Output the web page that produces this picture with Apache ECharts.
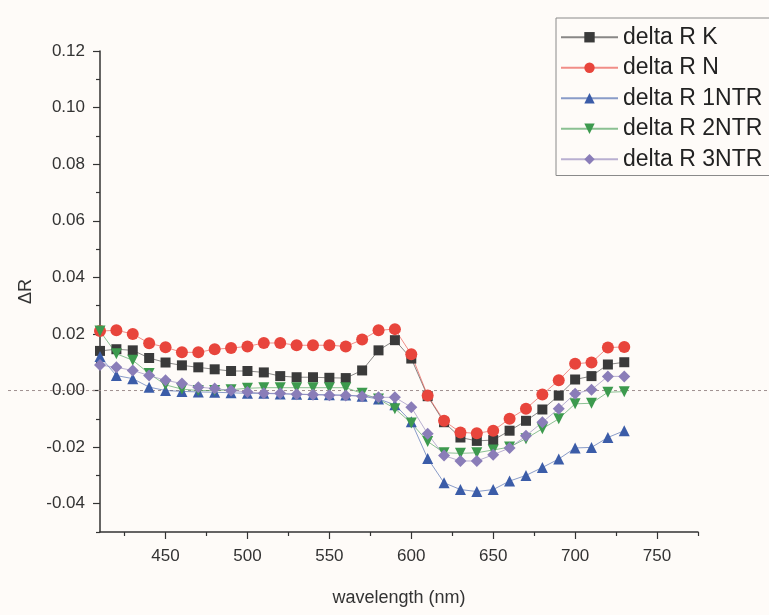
<!DOCTYPE html>
<html><head><meta charset="utf-8">
<script src="https://cdn.jsdelivr.net/npm/echarts@6/dist/echarts.min.js"></script>
<style>html,body{margin:0;padding:0;background:#fefbf8;}#c{width:769px;height:615px;}</style>
</head><body><div id="c"></div>
<script>
const wavelengths = [410,420,430,440,450,460,470,480,490,500,510,520,530,540,550,560,570,580,590,600,610,620,630,640,650,660,670,680,690,700,710,720,730];
const seriesNames = ['delta R K','delta R N','delta R 1NTR','delta R 2NTR','delta R 3NTR'];
const deltaK = [0.014,0.0146,0.0142,0.0115,0.0099,0.0089,0.0082,0.0075,0.0069,0.0069,0.0064,0.0051,0.0047,0.0047,0.0045,0.0044,0.0071,0.0142,0.0178,0.0113,-0.002,-0.0112,-0.0166,-0.0178,-0.0175,-0.0142,-0.0107,-0.0067,-0.0018,0.0039,0.0051,0.0092,0.0100];
const deltaN = [0.021,0.0213,0.020,0.0167,0.0153,0.0135,0.0135,0.0146,0.015,0.0156,0.0168,0.0168,0.016,0.016,0.016,0.0156,0.018,0.0213,0.0217,0.0128,-0.0018,-0.0107,-0.0148,-0.0151,-0.0142,-0.010,-0.0064,-0.0014,0.0036,0.0095,0.0099,0.0152,0.0154];
const delta1NTR = [0.012,0.0053,0.0042,0.0012,0.0,-0.0003,-0.0005,-0.0006,-0.0008,-0.001,-0.001,-0.0012,-0.0013,-0.0014,-0.0015,-0.0016,-0.002,-0.003,-0.005,-0.011,-0.024,-0.0326,-0.035,-0.0357,-0.035,-0.032,-0.030,-0.0272,-0.0242,-0.0203,-0.0201,-0.0166,-0.0142];
const delta2NTR = [0.021,0.013,0.0107,0.006,0.002,0.0005,0.0,0.0,0.0003,0.0008,0.001,0.001,0.001,0.001,0.001,0.001,-0.001,-0.003,-0.0064,-0.0115,-0.018,-0.022,-0.0222,-0.022,-0.021,-0.020,-0.017,-0.0135,-0.010,-0.0047,-0.0045,-0.0006,-0.0004];
const delta3NTR = [0.009,0.0082,0.0071,0.0053,0.0036,0.0025,0.0012,0.0007,0.0,-0.0005,-0.001,-0.001,-0.0013,-0.0015,-0.0017,-0.0018,-0.002,-0.0024,-0.0024,-0.0059,-0.0153,-0.023,-0.0249,-0.0249,-0.0227,-0.0203,-0.016,-0.0112,-0.0064,-0.0011,0.0003,0.005,0.005];
const xTickLabels = [450,500,550,600,650,700,750];
const xMinorTicks = [425,475,525,575,625,675,725,775];
const yTickLabels = [-0.04,-0.02,0.00,0.02,0.04,0.06,0.08,0.10,0.12];
const yMinorTicks = [-0.05,-0.03,-0.01,0.01,0.03,0.05,0.07,0.09,0.11];

const allValues = [deltaK, deltaN, delta1NTR, delta2NTR, delta3NTR];
const colors = ['#3a3a3a','#e8453c','#3b5ca8','#3d9a4e','#8a7db8'];
const symbols = ['rect','circle','triangle','triangle','diamond'];
const rotates = [0,0,0,180,0];
const sizes = [10,12,11,11,12];

const chart = echarts.init(document.getElementById('c'));
const axisColor = '#333';
const FONT = 'Liberation Sans, Arial, sans-serif';
const series = allValues.map((vals,i)=>({
  name: seriesNames[i], type:'line', xAxisIndex:0, yAxisIndex:0,
  data: vals.map((v,j)=>[wavelengths[j], v]),
  symbol: symbols[i], symbolRotate: rotates[i], symbolSize: sizes[i],
  itemStyle:{color:colors[i]},
  lineStyle:{color:colors[i], width:1, opacity:0.6},
  emphasis:{disabled:true}, animation:false, z: 3
}));

chart.setOption({
  backgroundColor:'#fefbf8',
  animation:false,
  grid:{left:100,right:71,top:51,bottom:83,containLabel:false},
  legend:{
    orient:'vertical', left:556, top:18,
    padding:[7,60,4,4],
    borderColor:'#8a8a8a', borderWidth:1,
    itemWidth:57, itemHeight:13, itemGap:6,
    textStyle:{fontFamily:FONT, fontSize:23, color:'#222', lineHeight:24.5},
    data: seriesNames
  },
  xAxis:[{
    type:'value', min:410, max:775, position:'bottom',
    name:'wavelength (nm)', nameLocation:'middle', nameGap:57,
    nameTextStyle:{fontFamily:FONT, fontSize:18, color:'#333'},
    axisLine:{show:true, onZero:false, lineStyle:{color:axisColor,width:1.5}},
    axisTick:{show:true, length:7, customValues:xTickLabels, lineStyle:{color:axisColor,width:1.2}},
    axisLabel:{customValues:xTickLabels, margin:16, fontFamily:FONT, fontSize:17, color:'#333'},
    splitLine:{show:false}
  },{
    type:'value', min:410, max:775, position:'bottom', gridIndex:0,
    axisLine:{show:false, onZero:false},
    axisTick:{show:true, length:4, customValues:xMinorTicks, lineStyle:{color:axisColor,width:1.2}},
    axisLabel:{show:false}, splitLine:{show:false}
  }],
  yAxis:[{
    type:'value', min:-0.05, max:0.12, position:'left',
    name:'ΔR', nameLocation:'middle', nameGap:52, nameRotate:90,
    nameTextStyle:{fontFamily:FONT, fontSize:18, color:'#333'},
    axisLine:{show:true, onZero:false, lineStyle:{color:axisColor,width:1.5}},
    axisTick:{show:true, length:7, customValues:yTickLabels, lineStyle:{color:axisColor,width:1.2}},
    axisLabel:{customValues:yTickLabels, margin:15, fontFamily:FONT, fontSize:17, color:'#333',
      formatter:(v)=>Number(v).toFixed(2)},
    splitLine:{show:false}
  },{
    type:'value', min:-0.05, max:0.12, position:'left',
    axisLine:{show:false, onZero:false},
    axisTick:{show:true, length:4, customValues:yMinorTicks, lineStyle:{color:axisColor,width:1.2}},
    axisLabel:{show:false}, splitLine:{show:false}
  }],
  series: series
});

const y0 = chart.convertToPixel({yAxisIndex:0}, 0);
chart.setOption({
  graphic:[{
    type:'line', z:1, silent:true,
    shape:{x1:8, y1:y0, x2:769, y2:y0},
    style:{stroke:'#a09090', lineWidth:1, lineDash:[3,3]}
  }]
});
</script></body></html>
